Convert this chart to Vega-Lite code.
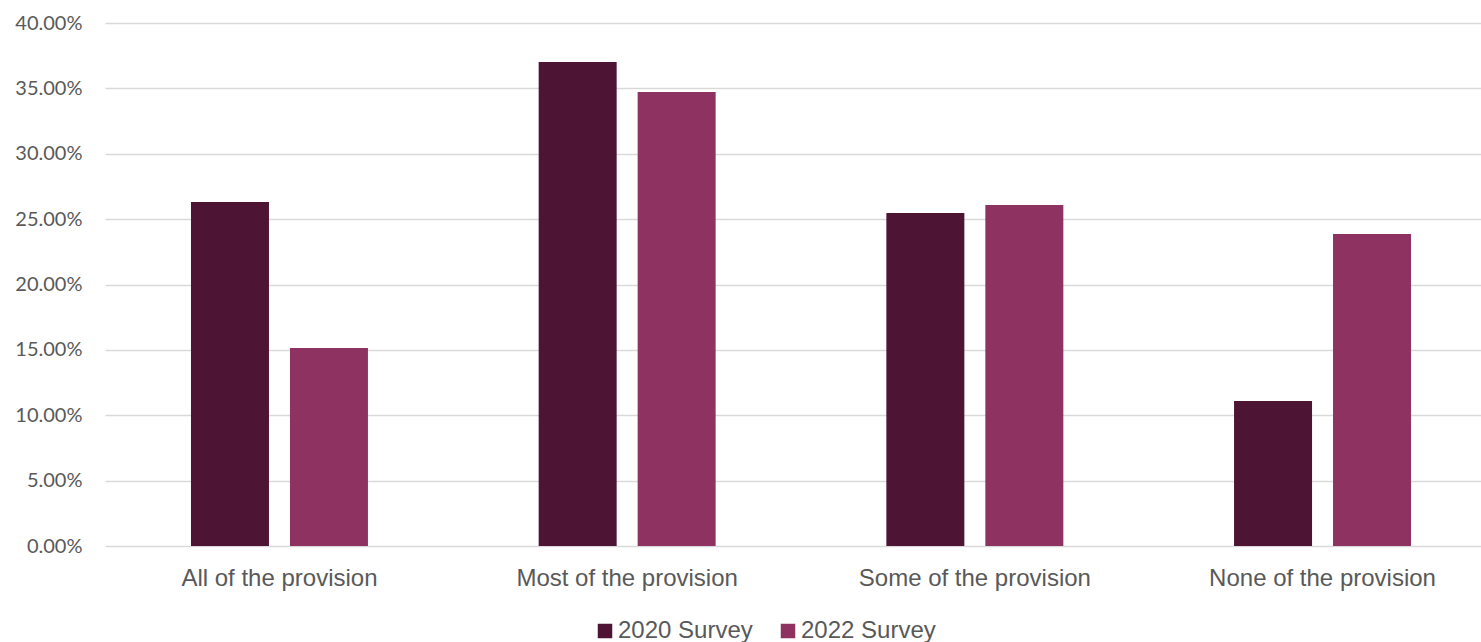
{
  "$schema": "https://vega.github.io/schema/vega-lite/v6.json",
  "width": 1376,
  "height": 523,
  "autosize": {"type": "none"},
  "padding": {"left": 105, "top": 23, "right": 0, "bottom": 96},
  "background": "#ffffff",
  "data": {
    "values": [
      {"provision": "All of the provision", "survey": "2020 Survey", "share": 0.2631},
      {"provision": "All of the provision", "survey": "2022 Survey", "share": 0.1514},
      {"provision": "Most of the provision", "survey": "2020 Survey", "share": 0.3702},
      {"provision": "Most of the provision", "survey": "2022 Survey", "share": 0.3472},
      {"provision": "Some of the provision", "survey": "2020 Survey", "share": 0.2547},
      {"provision": "Some of the provision", "survey": "2022 Survey", "share": 0.2608},
      {"provision": "None of the provision", "survey": "2020 Survey", "share": 0.1109},
      {"provision": "None of the provision", "survey": "2022 Survey", "share": 0.2386}
    ]
  },
  "mark": {"type": "bar", "stroke": null},
  "encoding": {
    "x": {
      "field": "provision",
      "type": "nominal",
      "sort": null,
      "title": null,
      "scale": {"range": [0, 1392], "paddingInner": 0.491, "paddingOuter": 0.2473},
      "axis": {
        "labelAngle": 0,
        "labelFont": "Liberation Sans",
        "labelFontSize": 24,
        "labelLimit": 0,
        "labelColor": "#595959",
        "labelPadding": 20,
        "ticks": false,
        "domain": false,
        "grid": false
      }
    },
    "xOffset": {
      "field": "survey",
      "type": "nominal",
      "scale": {"paddingInner": 0.212, "paddingOuter": 0}
    },
    "y": {
      "field": "share",
      "type": "quantitative",
      "title": null,
      "scale": {"domain": [0, 0.4], "nice": false},
      "axis": {
        "values": [0, 0.05, 0.1, 0.15, 0.2, 0.25, 0.3, 0.35, 0.4],
        "format": ".2%",
        "labelFont": "Lato",
        "labelFontSize": 20,
        "labelColor": "#595959",
        "labelPadding": 23,
        "ticks": false,
        "domain": false,
        "gridColor": "#d9d9d9",
        "gridWidth": 1.5
      }
    },
    "color": {
      "field": "survey",
      "type": "nominal",
      "title": null,
      "scale": {"domain": ["2020 Survey", "2022 Survey"], "range": ["#4d1533", "#8e3262"]},
      "legend": {
        "orient": "none",
        "direction": "horizontal",
        "legendX": 488,
        "legendY": 596,
        "symbolType": "square",
        "symbolSize": 210,
        "symbolStrokeWidth": 0,
        "labelFont": "Liberation Sans",
        "labelFontSize": 24,
        "labelColor": "#595959",
        "labelOffset": 1,
        "columnPadding": 23
      }
    }
  },
  "config": {"view": {"stroke": null}}
}
